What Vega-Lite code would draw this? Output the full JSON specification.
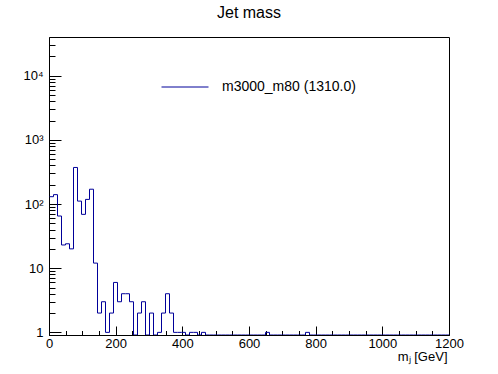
{
  "$schema": "https://vega.github.io/schema/vega-lite/v6.json",
  "width": 400,
  "height": 298,
  "autosize": "none",
  "padding": {"left": 49, "top": 37, "right": 49, "bottom": 39},
  "background": "white",
  "title": {"text": "Jet mass", "font": "Liberation Sans", "fontSize": 16, "fontWeight": "normal", "anchor": "middle", "offset": 3, "baseline": "alphabetic", "color": "black"},
  "data": {"values": [
    {"m": 0, "n": 130}, {"m": 12, "n": 140}, {"m": 24, "n": 65}, {"m": 36, "n": 23}, {"m": 48, "n": 24},
    {"m": 60, "n": 20}, {"m": 72, "n": 371}, {"m": 84, "n": 111}, {"m": 96, "n": 69}, {"m": 108, "n": 118},
    {"m": 120, "n": 170}, {"m": 132, "n": 12}, {"m": 144, "n": 2}, {"m": 156, "n": 3}, {"m": 168, "n": 1},
    {"m": 180, "n": 2}, {"m": 192, "n": 6}, {"m": 204, "n": 3}, {"m": 216, "n": 4}, {"m": 228, "n": 4},
    {"m": 240, "n": 3}, {"m": 252, "n": 0}, {"m": 264, "n": 2}, {"m": 276, "n": 3}, {"m": 288, "n": 0},
    {"m": 300, "n": 2}, {"m": 312, "n": 0}, {"m": 324, "n": 1}, {"m": 336, "n": 2}, {"m": 348, "n": 4},
    {"m": 360, "n": 2}, {"m": 372, "n": 1}, {"m": 384, "n": 1}, {"m": 396, "n": 1}, {"m": 408, "n": 0},
    {"m": 420, "n": 1}, {"m": 432, "n": 1}, {"m": 444, "n": 0}, {"m": 456, "n": 1}, {"m": 468, "n": 0},
    {"m": 480, "n": 0}, {"m": 492, "n": 0}, {"m": 504, "n": 0}, {"m": 516, "n": 0}, {"m": 528, "n": 0},
    {"m": 540, "n": 0}, {"m": 552, "n": 0}, {"m": 564, "n": 0}, {"m": 576, "n": 0}, {"m": 588, "n": 0},
    {"m": 600, "n": 0}, {"m": 612, "n": 0}, {"m": 624, "n": 0}, {"m": 636, "n": 0}, {"m": 648, "n": 1},
    {"m": 660, "n": 0}, {"m": 672, "n": 0}, {"m": 684, "n": 0}, {"m": 696, "n": 0}, {"m": 708, "n": 0},
    {"m": 720, "n": 0}, {"m": 732, "n": 0}, {"m": 744, "n": 0}, {"m": 756, "n": 0}, {"m": 768, "n": 1},
    {"m": 780, "n": 0}, {"m": 792, "n": 0}, {"m": 804, "n": 0}, {"m": 816, "n": 0}, {"m": 828, "n": 0},
    {"m": 840, "n": 0}, {"m": 852, "n": 0}, {"m": 864, "n": 0}, {"m": 876, "n": 0}, {"m": 888, "n": 0},
    {"m": 900, "n": 0}, {"m": 912, "n": 0}, {"m": 924, "n": 0}, {"m": 936, "n": 0}, {"m": 948, "n": 0},
    {"m": 960, "n": 0}, {"m": 972, "n": 0}, {"m": 984, "n": 0}, {"m": 996, "n": 0}, {"m": 1008, "n": 0},
    {"m": 1020, "n": 0}, {"m": 1032, "n": 0}, {"m": 1044, "n": 0}, {"m": 1056, "n": 0}, {"m": 1068, "n": 0},
    {"m": 1080, "n": 0}, {"m": 1092, "n": 0}, {"m": 1104, "n": 0}, {"m": 1116, "n": 0}, {"m": 1128, "n": 0},
    {"m": 1140, "n": 0}, {"m": 1152, "n": 0}, {"m": 1164, "n": 0}, {"m": 1176, "n": 0}, {"m": 1188, "n": 0},
    {"m": 1200, "n": 0}
  ]},
  "mark": {"type": "line", "interpolate": "step-after", "clip": true, "strokeWidth": 1, "xOffset": 0.5},
  "encoding": {
    "x": {
      "field": "m", "type": "quantitative",
      "scale": {"domain": [0, 1200], "nice": false, "zero": false},
      "axis": {
        "values": [0, 50, 100, 150, 200, 250, 300, 350, 400, 450, 500, 550, 600, 650, 700, 750, 800, 850, 900, 950, 1000, 1050, 1100, 1150, 1200],
        "tickSize": {"condition": {"test": "datum.value % 200 === 0", "value": -9}, "value": -4.5},
        "labelExpr": "datum.value % 200 === 0 ? format(datum.value, 'd') : ''",
        "labelPadding": 11,
        "labelFlush": false,
        "labelOverlap": false,
        "labelBound": false,
        "title": "mⱼ [GeV]",
        "titleAnchor": "end",
        "titleAlign": "right",
        "titleX": 398,
        "titleFont": "Liberation Sans",
        "titleFontSize": 13,
        "titleFontWeight": "normal",
        "titlePadding": -4
      }
    },
    "y": {
      "field": "n", "type": "quantitative",
      "scale": {"type": "log", "domain": [0.91, 40000], "nice": false, "clamp": true},
      "axis": {
        "values": [1, 2, 3, 4, 5, 6, 7, 8, 9, 10, 20, 30, 40, 50, 60, 70, 80, 90, 100, 200, 300, 400, 500, 600, 700, 800, 900, 1000, 2000, 3000, 4000, 5000, 6000, 7000, 8000, 9000, 10000, 20000, 30000],
        "tickSize": {"condition": {"test": "indexof([1, 10, 100, 1000, 10000], datum.value) >= 0", "value": -12}, "value": -6},
        "labelExpr": "datum.value === 1 ? '1' : datum.value === 10 ? '10' : datum.value === 100 ? '10²' : datum.value === 1000 ? '10³' : datum.value === 10000 ? '10⁴' : ''",
        "labelPadding": 18,
        "labelFlush": false,
        "labelOverlap": false,
        "labelBound": false,
        "title": null
      }
    },
    "color": {
      "datum": "m3000_m80 (1310.0)",
      "scale": {"range": ["#000099"]},
      "legend": {
        "orient": "none", "legendX": 112, "legendY": 26,
        "symbolType": "stroke", "symbolSize": 2209, "symbolStrokeWidth": 1,
        "labelFont": "Liberation Sans", "labelFontSize": 14, "labelColor": "black", "labelOffset": 13,
        "title": null, "padding": 0
      }
    }
  },
  "config": {
    "view": {"stroke": "black", "strokeWidth": 1},
    "axis": {
      "grid": false,
      "domainColor": "black", "domainWidth": 1,
      "tickColor": "black", "tickWidth": 1,
      "labelColor": "black", "labelFont": "Liberation Sans", "labelFontSize": 13,
      "titleColor": "black"
    }
  }
}
